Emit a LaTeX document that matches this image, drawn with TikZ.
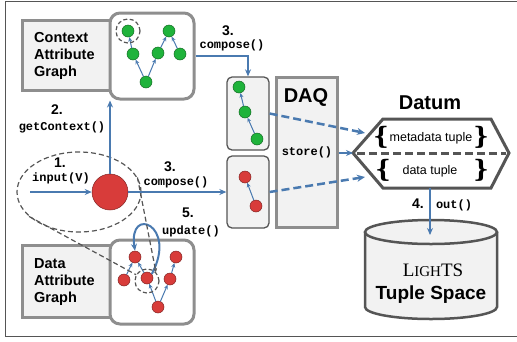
\documentclass[tikz,border=0pt]{standalone}
\usepackage{fontspec}
\setmainfont{Liberation Sans}
\setmonofont{Liberation Mono}
\newfontfamily\serifface{Liberation Serif}
\newfontfamily\braceface{DejaVu Serif}
\usetikzlibrary{arrows.meta,shapes.geometric}
\definecolor{flowblue}{HTML}{4A7AB0}
\definecolor{nodegreen}{HTML}{1FB33B}
\definecolor{nodered}{HTML}{D83C3A}
\definecolor{panelgray}{HTML}{8E8E8E}
\definecolor{rulegray}{HTML}{555555}
\definecolor{boxfill}{HTML}{F2F2F2}
\tikzset{
  labelbox/.style={draw=panelgray, line width=3pt, fill=boxfill},
  graphbox/.style={draw=panelgray, line width=3pt, fill=white, rounded corners=10pt},
  minibox/.style={draw=rulegray, line width=1.3pt, fill=boxfill, rounded corners=5pt},
  boxtext/.style={font=\bfseries\fontsize{14.5}{17}\selectfont, align=left, inner sep=0pt},
  bigtitle/.style={font=\bfseries\fontsize{20}{20}\selectfont, inner sep=0pt},
  stepno/.style={font=\bfseries\fontsize{14}{14}\selectfont, inner sep=0pt},
  call/.style={font=\ttfamily\bfseries\fontsize{12}{12}\selectfont, inner sep=0pt},
  tuple/.style={font=\fontsize{12.5}{12.5}\selectfont, inner sep=0pt},
  brace/.style={font=\braceface\bfseries\fontsize{24}{24}\selectfont, inner sep=0pt},
  greennode/.style={circle, fill=nodegreen, draw=nodegreen!60!black, line width=0.5pt, minimum size=12pt, inner sep=0pt},
  rednode/.style={circle, fill=nodered, draw=nodered!60!black, line width=0.5pt, minimum size=12pt, inner sep=0pt},
  edge/.style={flowblue, line width=1pt, -{Stealth[length=4.5pt, width=4pt]}},
  flow/.style={flowblue, line width=2pt, -{Stealth[length=7pt, width=6pt]}},
  dashflow/.style={flowblue, line width=2.5pt, dash pattern=on 8pt off 4pt, -{Stealth[length=8pt, width=7pt]}},
  zoomline/.style={rulegray, line width=1.2pt, dash pattern=on 5pt off 3pt},
  focusring/.style={circle, draw=rulegray, line width=1.2pt, dash pattern=on 4pt off 2.5pt, minimum size=24pt, inner sep=0pt},
}

\begin{document}
\begin{tikzpicture}[
  x=1pt,
  y=-1pt,
]
\useasboundingbox (0,0) rectangle (517,341);
\draw[rulegray, line width=1pt] (517,1) -- (5,1) -- (5,336) -- (517,336);

% context attribute graph
\node[labelbox, minimum width=88pt, minimum height=70pt] (ctxlabel) at (66,55) {};
\node[graphbox, minimum width=84pt, minimum height=86pt] (ctxgraph) at (152,56) {};
\node[boxtext, anchor=west] (ctxtext) at (34,56) {Context\\Attribute\\Graph};
\foreach \n/\px/\py in {a/128/31, b/169/31, c/133/54, d/158/53, e/180/54, f/146/82}
  \node[greennode] (c-\n) at (\px,\py) {};
\foreach \s/\t in {f/c, f/d, c/a, d/b, e/b}
  \draw[edge] (c-\s) -- (c-\t);
\node[focusring] (ctxfocus) at (c-a) {};

% data attribute graph
\node[labelbox, minimum width=88pt, minimum height=72pt] (datlabel) at (66,281) {};
\node[graphbox, minimum width=84pt, minimum height=84pt] (datgraph) at (152,282) {};
\node[boxtext, anchor=west] (dattext) at (34,282) {Data\\Attribute\\Graph};
\foreach \n/\px/\py in {a/135/257, b/176/257, l/124/280, c/147/278, r/170/279, f/158/307}
  \node[rednode] (d-\n) at (\px,\py) {};
\foreach \s/\t in {f/c, f/r, l/a, c/a, r/b}
  \draw[edge] (d-\s) -- (d-\t);
\node[focusring] (datfocus) at (147,281) {};

% DAQ
\node[labelbox, minimum width=61pt, minimum height=150pt] (daq) at (306.5,152) {};
\node[bigtitle] (daqtitle) at (306,97) {DAQ};
\node[call] (storecall) at (307,152) {store()};
\node[minibox, minimum width=42pt, minimum height=73pt] (gbox) at (248,113.5) {};
\node[minibox, minimum width=42pt, minimum height=72pt] (rbox) at (248,192) {};
\foreach \n/\px/\py in {1/239/87, 2/245/112, 3/257/139}
  \node[greennode] (g-\n) at (\px,\py) {};
\draw[edge] (g-3) -- (g-2);
\draw[edge] (g-2) -- (g-1);
\foreach \n/\px/\py in {1/245/177, 2/256/206}
  \node[rednode] (r-\n) at (\px,\py) {};
\draw[edge] (r-2) -- (r-1);

% datum
\coordinate (datum-w) at (353,153);
\coordinate (datum-e) at (509,153);
\coordinate (datum-s) at (430,188);
\draw[rulegray, line width=3pt, fill=white, line join=miter]
  (datum-w) -- (383,119) -- (491,119) -- (datum-e) -- (491,188) -- (383,188) -- cycle;
\draw[rulegray, line width=3pt, dash pattern=on 8pt off 4pt] (357,153) -- (506,153);
\node[bigtitle] (datumtitle) at (430,103) {Datum};
\node[tuple] (metatuple) at (431,138) {metadata tuple};
\node[brace] (meta-l) at (381,137) {\{};
\node[brace] (meta-r) at (481,137) {\}};
\node[tuple] (datatuple) at (430,171) {data tuple};
\node[brace] (data-l) at (383,170) {\{};
\node[brace] (data-r) at (481,170) {\}};

% tuple space
\fill[boxfill] (365,232) -- (365,307) arc[start angle=180, end angle=0, x radius=66, y radius=12] -- (497,232) -- cycle;
\draw[rulegray, line width=2.5pt] (365,232) -- (365,307) arc[start angle=180, end angle=0, x radius=66, y radius=12] -- (497,232);
\draw[rulegray, line width=2.5pt, fill=boxfill] (431,232) ellipse [x radius=66, y radius=12];
\coordinate (space-top) at (430,235);
\node[inner sep=0pt, font=\serifface\fontsize{19}{19}\selectfont] (lights) at (433,270) {L{\fontsize{15}{15}\selectfont IGH}TS};
\node[bigtitle, font=\bfseries\fontsize{19}{19}\selectfont] (spacetitle) at (431,295) {Tuple Space};

% source value
\node[ellipse, draw=rulegray, line width=1.2pt, dash pattern=on 5pt off 3pt, minimum width=124pt, minimum height=80pt] (zoomring) at (79,192) {};
\coordinate (in) at (30,192);
\node[circle, fill=nodered, draw=nodered!60!black, line width=0.5pt, minimum size=36pt, inner sep=0pt] (source) at (110,192) {};

% flows
\draw[flow] (in) -- (source.west);
\draw[flow] (source.north) -- (source.north |- ctxgraph.south);
\draw[flow] (source.east) -- (rbox.west);
\draw[flow] (ctxgraph.east) -| (gbox.north);
\draw[dashflow] (gbox.east) -- (365,133);
\draw[dashflow] (rbox.east) -- (365,177);
\draw[flow] (daq.east |- datum-w) -- (datum-w);
\draw[flow] (datum-s) -- (space-top);
\draw[flow] (d-c.40) .. controls (178,225) and (128,205) .. (d-a.north);
\draw[zoomline] (zoomring.206) -- (datfocus.150);
\draw[zoomline, -{Stealth[length=4pt, width=4pt]}] (zoomring.14) -- (datfocus.45);

% labels
\node[stepno] (s1) at (60,163) {1.};
\node[call] (inputcall) at (61,178) {input(V)};
\node[stepno] (s2) at (57,110) {2.};
\node[call] (ctxcall) at (62,127) {getContext()};
\node[stepno] (s3a) at (228,31) {3.};
\node[call] (composea) at (232,45) {compose()};
\node[stepno] (s3b) at (170,167) {3.};
\node[call] (composeb) at (176,182) {compose()};
\node[stepno] (s5) at (188,213) {5.};
\node[call] (updatecall) at (191,231) {update()};
\node[stepno] (s4) at (418,204) {4.};
\node[call] (outcall) at (454,205) {out()};
\end{tikzpicture}
\end{document}
